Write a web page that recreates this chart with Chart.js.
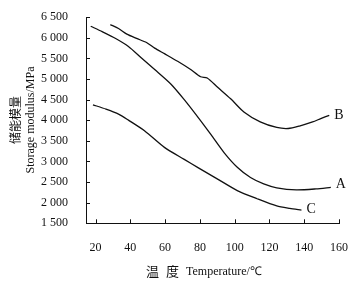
<!DOCTYPE html>
<html>
<head>
<meta charset="utf-8">
<script src="https://cdn.jsdelivr.net/npm/chart.js@4/dist/chart.umd.min.js"></script>
<style>
  html, body { margin: 0; padding: 0; background: #fff; }
  #wrap { width: 357px; height: 282px; }
</style>
</head>
<body>
<div id="wrap"><canvas id="modulusChart" width="357" height="282"></canvas></div>
<script>
// curve A
const tempA = [17.2, 23.8, 31.3, 38.9, 46.4, 54.0, 63.4, 71.0, 79.5, 86.4, 94.0, 101.5, 109.1, 116.7, 124.2, 135.5, 146.8, 155.3];
const modA = [6280, 6150, 5990, 5790, 5510, 5230, 4875, 4500, 4040, 3650, 3210, 2860, 2610, 2455, 2360, 2310, 2335, 2372];
// curve B
const tempB = [28.5, 33.2, 38.0, 43.6, 49.3, 54.0, 59.6, 67.2, 74.7, 80.4, 84.2, 90.2, 97.7, 105.3, 114.7, 124.2, 130.8, 137.2, 144.8, 149.5, 154.4];
const modB = [6320, 6225, 6090, 5985, 5885, 5750, 5615, 5430, 5230, 5055, 5025, 4800, 4520, 4200, 3960, 3825, 3800, 3860, 3960, 4040, 4120];
// curve C
const tempC = [18.5, 26.0, 33.2, 38.9, 48.3, 59.6, 71.0, 78.9, 90.2, 101.5, 112.9, 124.2, 131.7, 138.4];
const modC = [4375, 4270, 4150, 4002, 3740, 3342, 3050, 2850, 2572, 2294, 2096, 1920, 1860, 1820];

const xTicks = [20, 40, 60, 80, 100, 120, 140, 160];
const yTicks = [1500, 2000, 2500, 3000, 3500, 4000, 4500, 5000, 5500, 6000, 6500];

const curveNames = ['A', 'B', 'C'];
const namePos = [[161, 2437], [159.9, 4126], [144, 1829]];

const serif = "'Liberation Serif', 'Times New Roman', serif";
const cjk = "'Noto Sans CJK SC', sans-serif";

function toPoints(xs, ys) {
    return xs.map((x, i) => ({ x: x, y: ys[i] }));
}

function fmt(v) {
    const s = String(v);
    return s.length > 3 ? s.slice(0, s.length - 3) + ' ' + s.slice(-3) : s;
}

function lineSet(label, xs, ys) {
    return {
        label: label,
        data: toPoints(xs, ys),
        borderColor: '#111',
        borderWidth: 1.3,
        pointRadius: 0,
        tension: 0.25,
        fill: false
    };
}

// inward ticks, curve names and axis titles
const extras = {
    id: 'extras',
    afterDraw(chart) {
        const ctx = chart.ctx;
        const xs = chart.scales.x;
        const ys = chart.scales.y;
        const area = chart.chartArea;
        ctx.save();
        ctx.strokeStyle = '#111';
        ctx.lineWidth = 1;
        ctx.beginPath();
        xTicks.forEach(v => {
            const px = Math.round(xs.getPixelForValue(v)) + 0.5;
            ctx.moveTo(px, area.bottom);
            ctx.lineTo(px, area.bottom - 4);
        });
        yTicks.forEach(v => {
            const py = Math.round(ys.getPixelForValue(v)) + 0.5;
            ctx.moveTo(area.left, py);
            ctx.lineTo(area.left + 4, py);
        });
        ctx.stroke();

        ctx.fillStyle = '#111';
        ctx.font = '14px ' + serif;
        ctx.textAlign = 'center';
        ctx.textBaseline = 'middle';
        curveNames.forEach((n, i) => {
            ctx.fillText(n, xs.getPixelForValue(namePos[i][0]), ys.getPixelForValue(namePos[i][1]));
        });

        // x title
        ctx.textAlign = 'left';
        ctx.textBaseline = 'middle';
        ctx.font = '13px ' + cjk;
        ctx.fillText('温', 146, 271);
        ctx.fillText('度', 166, 271);
        ctx.font = '12px ' + serif;
        ctx.fillText('Temperature/℃', 186, 272);

        // y title
        ctx.translate(15, 120);
        ctx.rotate(-Math.PI / 2);
        ctx.textAlign = 'center';
        ctx.font = '12px ' + cjk;
        ctx.fillText('储能模量', 0, 0);
        ctx.font = '12px ' + serif;
        ctx.fillText('Storage modulus/MPa', 0, 16);
        ctx.restore();
    }
};

new Chart(document.getElementById('modulusChart'), {
    type: 'line',
    data: {
        datasets: [
            lineSet('A', tempA, modA),
            lineSet('B', tempB, modB),
            lineSet('C', tempC, modC)
        ]
    },
    options: {
        responsive: false,
        animation: false,
        layout: { padding: { top: 13.5, right: 13.7, left: 0, bottom: 0 } },
        plugins: {
            legend: { display: false },
            tooltip: { enabled: false }
        },
        scales: {
            x: {
                type: 'linear',
                min: 14.5,
                max: 160,
                afterBuildTicks: scale => { scale.ticks = xTicks.map(v => ({ value: v })); },
                afterFit: scale => { scale.height = 58.7; },
                grid: { display: false },
                border: { display: true, color: '#111', width: 1 },
                ticks: {
                    color: '#111',
                    padding: 9,
                    maxRotation: 0,
                    font: { family: serif, size: 12 }
                }
            },
            y: {
                min: 1500,
                max: 6500,
                afterBuildTicks: scale => { scale.ticks = yTicks.map(v => ({ value: v })); },
                afterFit: scale => { scale.width = 86; },
                grid: { display: false },
                border: { display: true, color: '#111', width: 1 },
                ticks: {
                    color: '#111',
                    padding: 10,
                    font: { family: serif, size: 12 },
                    callback: v => fmt(v)
                }
            }
        }
    },
    plugins: [extras]
});
</script>
</body>
</html>
